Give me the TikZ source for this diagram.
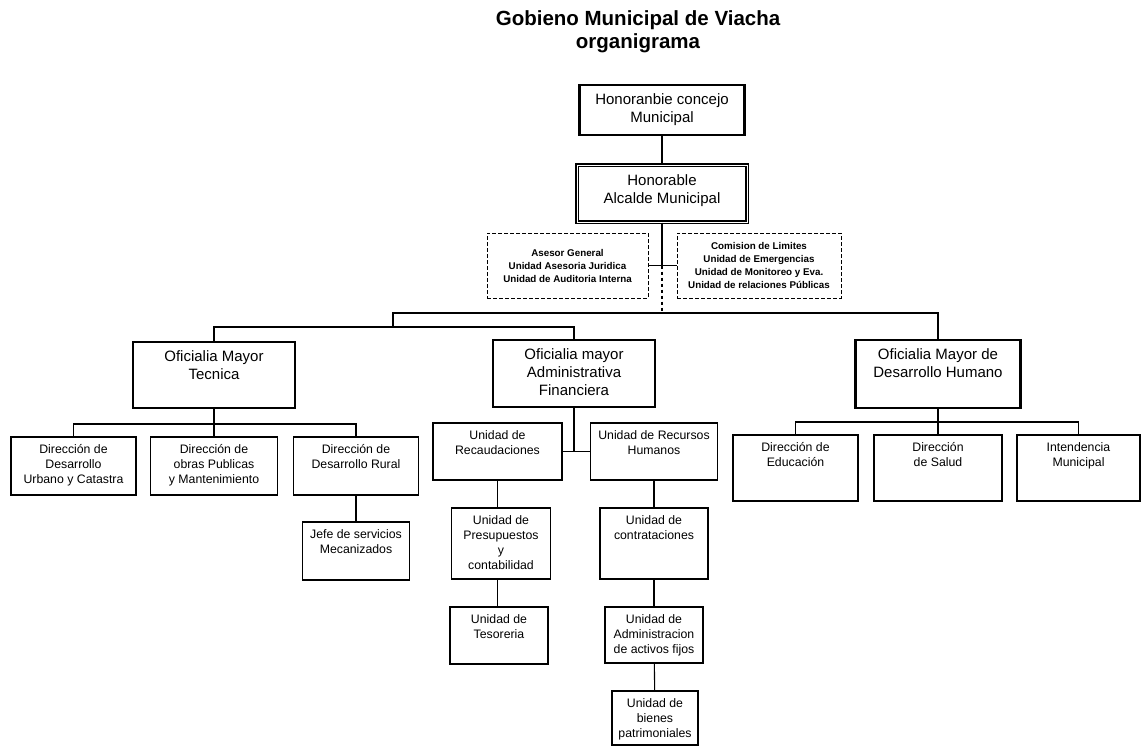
\documentclass[tikz,border=0pt]{standalone}
\usepackage{fontspec}
\setmainfont{Liberation Sans}
\begin{document}
\begin{tikzpicture}[x=1pt,y=-1pt,
    unit/.style 2 args={draw, line width=1.2pt, minimum width=#1pt, minimum height=#2pt, inner sep=0pt},
    head/.style 2 args={unit={#1}{#2}, line width=2.4pt},
    aide/.style={draw, dashed, dash pattern=on 4pt off 2pt, line width=0.8pt, minimum width=161pt, minimum height=65pt, align=center, font=\fontsize{9.8}{13}\selectfont\bfseries},
    txt/.style={anchor=north, align=center, inner sep=3pt, yshift=-5pt, font=\fontsize{12.3}{15}\selectfont},
    bigtxt/.style={txt, yshift=-2pt, font=\fontsize{15}{18}\selectfont},
    link/.style={line width=1.1pt}]
\useasboundingbox (0,0) rectangle (1142,747);
\node[anchor=north, align=center, inner sep=0pt, font=\fontsize{20.5}{23}\selectfont\bfseries] (titulo) at (638,10) {Gobieno Municipal de Viacha\\organigrama};
\node[head={165}{50}, label={[bigtxt]north:{Honoranbie concejo\\Municipal}}] (concejo) at (662,110) {};
\node[unit={170}{57}, line width=1.3pt, double, double distance=1pt, label={[bigtxt]north:{Honorable\\Alcalde Municipal}}] (alcalde) at (662,193.5) {};
\node[aide] (asesor) at (567.5,265.5) {Asesor General\\Unidad Asesoria Juridica\\Unidad de Auditoria Interna};
\node[aide, minimum width=164pt] (comision) at (759,265.5) {Comision de Limites\\Unidad de Emergencias\\Unidad de Monitoreo y Eva.\\Unidad de relaciones Públicas};
\coordinate (hub) at (662,265.5);
\coordinate (bus) at (662,313);
\coordinate (busL) at (393,313);
\coordinate (fork) at (393,327);
\node[head={162}{66}, label={[bigtxt]north:{Oficialia Mayor\\Tecnica}}] (tecnica) at (214,375) {};
\node[head={162}{67}, label={[bigtxt]north:{Oficialia mayor\\Administrativa\\Financiera}}] (admin) at (574,373.5) {};
\node[head={165}{68}, label={[bigtxt]north:{Oficialia Mayor de\\Desarrollo Humano}}] (humano) at (938,374) {};
\node[unit={125}{58}, label={[txt]north:{Dirección de\\Desarrollo\\Urbano y Catastra}}] (urbano) at (73.5,466) {};
\node[unit={127}{58}, label={[txt]north:{Dirección de\\obras Publicas\\y Mantenimiento}}] (obras) at (214,466) {};
\node[unit={125}{58}, label={[txt]north:{Dirección de\\Desarrollo Rural}}] (rural) at (356,466) {};
\node[unit={107}{58}, label={[txt]north:{Jefe de servicios\\Mecanizados}}] (jefe) at (356,551) {};
\coordinate (tfork) at (214,424);
\node[unit={129}{57}, label={[txt]north:{Unidad de\\Recaudaciones}}] (recaud) at (497.5,451.5) {};
\node[unit={127}{57}, label={[txt]north:{Unidad de Recursos\\Humanos}}] (rrhh) at (654,451.5) {};
\node[unit={99}{71}, label={[txt]north:{Unidad de\\Presupuestos\\y\\contabilidad}}] (presup) at (501,543.5) {};
\node[unit={98}{57}, label={[txt]north:{Unidad de\\Tesoreria}}] (tesor) at (499,635.5) {};
\node[unit={108}{71}, label={[txt]north:{Unidad de\\contrataciones}}] (contrat) at (654,543.5) {};
\node[unit={98}{56}, label={[txt]north:{Unidad de\\Administracion\\de activos fijos}}] (activos) at (654,635) {};
\node[unit={86}{54}, label={[txt]north:{Unidad de\\bienes\\patrimoniales}}] (bienes) at (655,718) {};
\node[unit={125}{66}, label={[txt]north:{Dirección de\\Educación}}] (educ) at (795.5,468) {};
\node[unit={128}{66}, label={[txt]north:{Dirección\\de Salud}}] (salud) at (938,468) {};
\node[unit={123}{66}, label={[txt]north:{Intendencia\\Municipal}}] (intend) at (1078.5,468) {};
\coordinate (dfork) at (938,422);
\draw[link] (concejo) -- (alcalde);
\draw[link] (alcalde) -- (hub);
\draw[link] (asesor) -- (comision);
\draw[link, dashed] (hub) -- (bus);
\draw[link] (humano) |- (busL) -- (fork);
\draw[link] (tecnica) |- (fork) -| (admin);
\draw[link] (tecnica) -- (obras);
\draw[link] (urbano) |- (tfork) -| (rural);
\draw[link] (rural) -- (jefe);
\draw[link, line width=1.6pt] (admin) -- (admin |- recaud);
\draw[link] (recaud) -- (rrhh);
\draw[link] (recaud.south) -- (recaud.south |- presup.north);
\draw[link] (presup.south -| recaud) -- (tesor.north -| recaud);
\draw[link] (rrhh) -- (contrat);
\draw[link] (contrat) -- (activos);
\draw[link] (activos) -- (bienes);
\draw[link] (humano) -- (salud);
\draw[link] (educ) |- (dfork) -| (intend);
\end{tikzpicture}
\end{document}
